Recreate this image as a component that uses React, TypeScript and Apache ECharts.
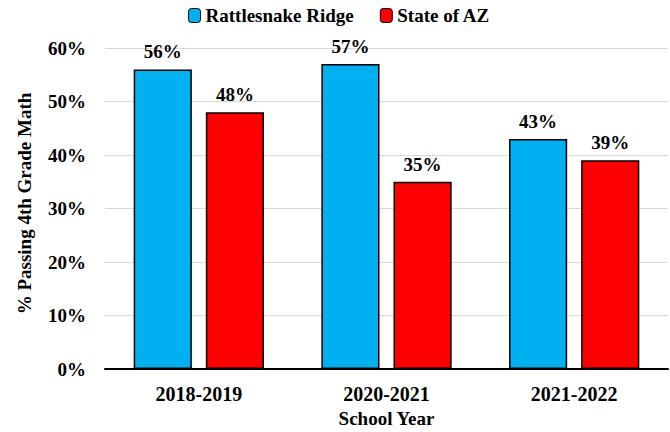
import React, { useEffect, useRef } from "react";
import * as echarts from "echarts";

const categories = ["2018-2019", "2020-2021", "2021-2022"];
const rattlesnake = [56, 57, 43];
const stateAZ = [48, 35, 39];
const yTicks = [0, 10, 20, 30, 40, 50, 60];

const FONT = "'Liberation Serif', 'Times New Roman', serif";

export default function App() {
  const ref = useRef<HTMLDivElement>(null);
  useEffect(() => {
    if (!ref.current) return;
    const chart = echarts.init(ref.current, undefined, { renderer: "svg" });
    const label = {
      show: true,
      position: "top",
      distance: 8,
      formatter: "{c}%",
      fontFamily: FONT,
      fontWeight: "bold",
      fontSize: 19,
      color: "#000",
    };
    chart.setOption({
      animation: false,
      textStyle: { fontFamily: FONT },
      legend: {
        top: 6,
        left: 188,
        padding: 0,
        itemWidth: 12,
        itemHeight: 14,
        itemGap: 26,
        itemStyle: { borderColor: "#000", borderWidth: 1 },
        textStyle: { fontFamily: FONT, fontWeight: "bold", fontSize: 19, color: "#000" },
        data: ["Rattlesnake Ridge", "State of AZ"],
      },
      grid: { left: 105, right: 2, top: 48, bottom: 63, outerBoundsMode: "none", containLabel: false },
      xAxis: {
        type: "category",
        data: categories,
        name: "School Year",
        nameLocation: "middle",
        nameGap: 39,
        nameTextStyle: { fontFamily: FONT, fontWeight: "bold", fontSize: 19, color: "#000" },
        axisLine: { lineStyle: { color: "#000", width: 2 } },
        axisTick: { show: false },
        axisLabel: { fontFamily: FONT, fontWeight: "bold", fontSize: 20, color: "#000", margin: 15 },
      },
      yAxis: {
        type: "value",
        min: yTicks[0],
        max: yTicks[yTicks.length - 1],
        interval: 10,
        name: "% Passing 4th Grade Math",
        nameLocation: "middle",
        nameGap: 71,
        nameTextStyle: { fontFamily: FONT, fontWeight: "bold", fontSize: 19, color: "#000", padding: [0, 0, 0, 10] },
        axisLine: { show: false },
        axisTick: { show: false },
        axisLabel: { formatter: "{value}%", fontFamily: FONT, fontWeight: "bold", fontSize: 19, color: "#000", margin: 19 },
        splitLine: { lineStyle: { color: "#d9d9d9", width: 1 } },
      },
      series: [
        {
          name: "Rattlesnake Ridge",
          type: "bar",
          data: rattlesnake,
          barWidth: "31%",
          barGap: "24%",
          itemStyle: { color: "#00B0F0", borderColor: "#000", borderWidth: 1.5 },
          label,
        },
        {
          name: "State of AZ",
          type: "bar",
          data: stateAZ,
          barWidth: "31%",
          itemStyle: { color: "#FF0000", borderColor: "#000", borderWidth: 1.5 },
          label,
        },
      ],
    });
    return () => chart.dispose();
  }, []);
  return <div ref={ref} style={{ width: 670, height: 432, position: "absolute", left: 0, top: 0 }} />;
}
